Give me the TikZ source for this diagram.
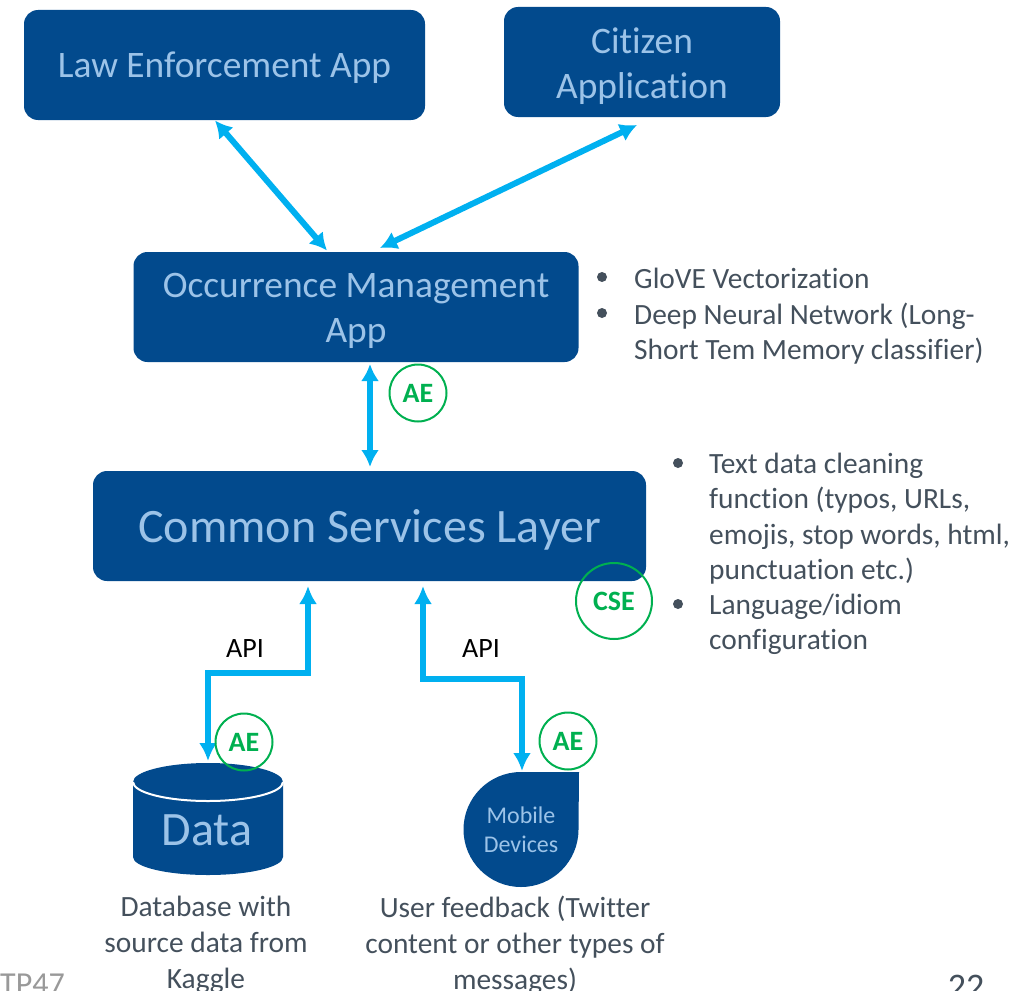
\documentclass[tikz,border=0pt]{standalone}
\usepackage{fontspec}
\setmainfont[Ligatures=NoCommon]{Carlito}
\usetikzlibrary{arrows.meta}
\definecolor{boxblue}{HTML}{024A8D}
\definecolor{boxtext}{HTML}{9CC3E8}
\definecolor{arrowblue}{HTML}{00B0F0}
\definecolor{badgegreen}{HTML}{00B050}
\definecolor{bodytext}{HTML}{44505C}
\tikzset{
  x=1pt,y=-1pt,
  appbox/.style={fill=boxblue,rounded corners=14pt,inner sep=0pt,minimum width=#1,minimum height=110pt},
  apptext/.style={text=boxtext,align=center,inner sep=0pt},
  linkthick/.style={draw=arrowblue,line width=6pt,{Latex[length=17pt,width=19pt]}-{Latex[length=17pt,width=19pt]}},
  linkthin/.style={draw=arrowblue,line width=6pt,{Latex[length=17pt,width=18pt]}-{Latex[length=17pt,width=18pt]}},
  linkelbow/.style={draw=arrowblue,line width=6pt,miter limit=10,{Latex[length=18pt,width=18pt]}-{Latex[length=18pt,width=18pt]}},
  badge/.style={circle,draw=badgegreen,line width=2pt,text=badgegreen,font=\fontsize{28}{28}\selectfont\bfseries,inner sep=0pt,minimum size=#1},
  notetext/.style={text=bodytext,font=\fontsize{29.4}{35.3}\selectfont,align=left,anchor=north west,inner sep=0pt},
  captext/.style={text=bodytext,font=\fontsize{29.4}{36}\selectfont,align=center,inner sep=0pt},
  apilabel/.style={text=black,font=\fontsize{28}{28}\selectfont,inner sep=0pt},
  dot/.style={circle,fill=bodytext,inner sep=0pt,minimum size=10pt},
}
\begin{document}
\begin{tikzpicture}
\useasboundingbox (0,0) rectangle (1030,990);
\clip (0,0) rectangle (1030,990);
% boxes
\node[appbox=401pt] (law) at (224.5,65) {};
\node[apptext,font=\fontsize{37.4}{37.4}\selectfont] (lawt) at (224.5,68) {Law Enforcement App};
\node[appbox=276pt] (citizen) at (642,62) {};
\node[apptext,font=\fontsize{37.4}{45}\selectfont] (citt) at (642,66) {Citizen\\Application};
\node[appbox=445pt] (occ) at (356,307) {};
\node[apptext,font=\fontsize{37.4}{45}\selectfont] (occt) at (356,311) {Occurrence Management\\App};
\node[appbox=553pt] (csl) at (369.5,526) {};
\node[apptext,font=\fontsize{48}{48}\selectfont] (cslt) at (369.5,530) {Common Services Layer};
% data cylinder
\fill[boxblue] (133,782) -- (133,857) arc[start angle=180,end angle=0,x radius=75,y radius=18] -- (283,782) arc[start angle=0,end angle=-180,x radius=75,y radius=19] -- cycle;
\draw[white,line width=2pt] (133,782) arc[start angle=180,end angle=0,x radius=75,y radius=19];
\node[apptext,font=\fontsize{48}{48}\selectfont] (data) at (207,830) {Data};
% mobile teardrop
\fill[boxblue] (579,772) -- (521,772) arc[start angle=270,end angle=90,radius=57.5] arc[start angle=90,end angle=0,radius=57.5] -- cycle;
\node[apptext,font=\fontsize{24}{29}\selectfont] (mobile) at (521,830) {Mobile\\Devices};
% connector ends
\coordinate (lawend) at (215,120.5);
\coordinate (occleft) at (327,250.5);
\coordinate (citend) at (637,125);
\coordinate (occright) at (380,248);
\coordinate (occbot) at (370,364);
\coordinate (cslbot) at (370,467);
\coordinate (apileft) at (308,586);
\coordinate (dataend) at (208,761);
\coordinate (apiright) at (423,586);
\coordinate (mobileend) at (522,771);
% connectors
\draw[linkthick] (lawend) -- (occleft);
\draw[linkthick] (citend) -- (occright);
\draw[linkthin] (occbot) -- (cslbot);
\draw[linkelbow] (apileft) -- (apileft |- 0,673) -- (dataend |- 0,673) -- (dataend);
\draw[linkelbow] (apiright) -- (apiright |- 0,679) -- (mobileend |- 0,679) -- (mobileend);
% badges
\node[badge=57pt] (ae1) at (418,393) {AE};
\node[badge=76pt] (cse) at (614,601) {CSE};
\node[badge=57pt] (ae2) at (244,742) {AE};
\node[badge=57pt] (ae3) at (568,741) {AE};
% api
\node[apilabel] (api1) at (245,649) {API};
\node[apilabel] (api2) at (481,649) {API};
% notes
\node[dot] (d1) at (602,277) {};
\node[dot] (d2) at (602,313) {};
\node[notetext] (n1) at (634,268) {GloVE Vectorization};
\node[notetext] (n2) at (634,303) {Deep Neural Network (Long-\\Short Tem Memory classifier)};
\node[dot] (d3) at (678,463) {};
\node[dot] (d4) at (678,604) {};
\node[notetext] (n3) at (709,453) {Text data cleaning\\function (typos, URLs,\\emojis, stop words, html,\\punctuation etc.)};
\node[notetext] (n4) at (709,594) {Language/idiom\\configuration};
% captions
\node[captext,anchor=north] (c1) at (206,896) {Database with\\source data from\\Kaggle};
\node[captext,anchor=north] (c2) at (515,896) {User feedback (Twitter\\content or other types of\\messages)};
% footer
\node[anchor=base west,inner sep=0pt,text=gray!80,font=\fontsize{32}{32}\selectfont] (tp) at (0,994) {TP47};
\node[anchor=base,inner sep=0pt,text=bodytext,font=\fontsize{36}{36}\selectfont] (pg) at (966,998) {22};
\end{tikzpicture}
\end{document}
